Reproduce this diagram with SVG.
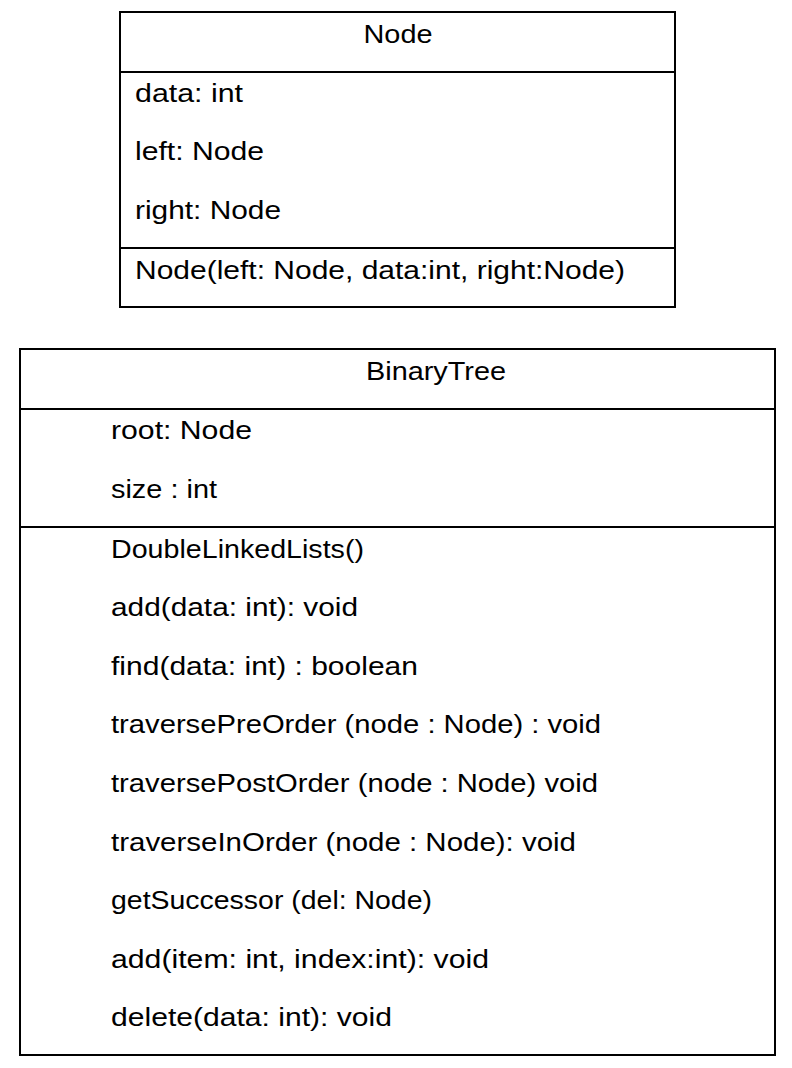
<svg xmlns="http://www.w3.org/2000/svg" width="792" height="1068" viewBox="0 0 792 1068">
<style>
.box{fill:#fff;stroke:#000;stroke-width:2}
.ln{stroke:#000;stroke-width:2}
text{font-family:"Liberation Sans",Arial,sans-serif;font-size:26px;fill:#000}
.c{text-anchor:middle}
</style>
<rect width="792" height="1068" fill="#fff"/>
<g id="node-Node">
<rect class="box" x="120" y="12" width="555" height="295"/>
<line class="ln" x1="120" y1="72" x2="675" y2="72"/>
<line class="ln" x1="120" y1="248" x2="675" y2="248"/>
<text class="c" x="398" y="43" textLength="69" lengthAdjust="spacingAndGlyphs">Node</text>
<text x="135" y="102" textLength="108" lengthAdjust="spacingAndGlyphs">data: int</text>
<text x="135" y="160" textLength="129" lengthAdjust="spacingAndGlyphs">left: Node</text>
<text x="135" y="219" textLength="146" lengthAdjust="spacingAndGlyphs">right: Node</text>
<text x="135" y="279" textLength="490" lengthAdjust="spacingAndGlyphs">Node(left: Node, data:int, right:Node)</text>
</g>
<g id="node-BinaryTree">
<rect class="box" x="20" y="349" width="755" height="706"/>
<line class="ln" x1="20" y1="409" x2="775" y2="409"/>
<line class="ln" x1="20" y1="527" x2="775" y2="527"/>
<text class="c" x="436" y="380" textLength="140" lengthAdjust="spacingAndGlyphs">BinaryTree</text>
<text x="111" y="439" textLength="141" lengthAdjust="spacingAndGlyphs">root: Node</text>
<text x="111" y="498" textLength="106" lengthAdjust="spacingAndGlyphs">size : int</text>
<text x="111" y="558" textLength="253" lengthAdjust="spacingAndGlyphs">DoubleLinkedLists()</text>
<text x="111" y="616" textLength="247" lengthAdjust="spacingAndGlyphs">add(data: int): void</text>
<text x="111" y="675" textLength="307" lengthAdjust="spacingAndGlyphs">find(data: int) : boolean</text>
<text x="111" y="733" textLength="490" lengthAdjust="spacingAndGlyphs">traversePreOrder (node : Node) : void</text>
<text x="111" y="792" textLength="487" lengthAdjust="spacingAndGlyphs">traversePostOrder (node : Node) void</text>
<text x="111" y="851" textLength="465" lengthAdjust="spacingAndGlyphs">traverseInOrder (node : Node): void</text>
<text x="111" y="909" textLength="321" lengthAdjust="spacingAndGlyphs">getSuccessor (del: Node)</text>
<text x="111" y="968" textLength="378" lengthAdjust="spacingAndGlyphs">add(item: int, index:int): void</text>
<text x="111" y="1026" textLength="281" lengthAdjust="spacingAndGlyphs">delete(data: int): void</text>
</g>
<g id="connectors"></g>
</svg>
